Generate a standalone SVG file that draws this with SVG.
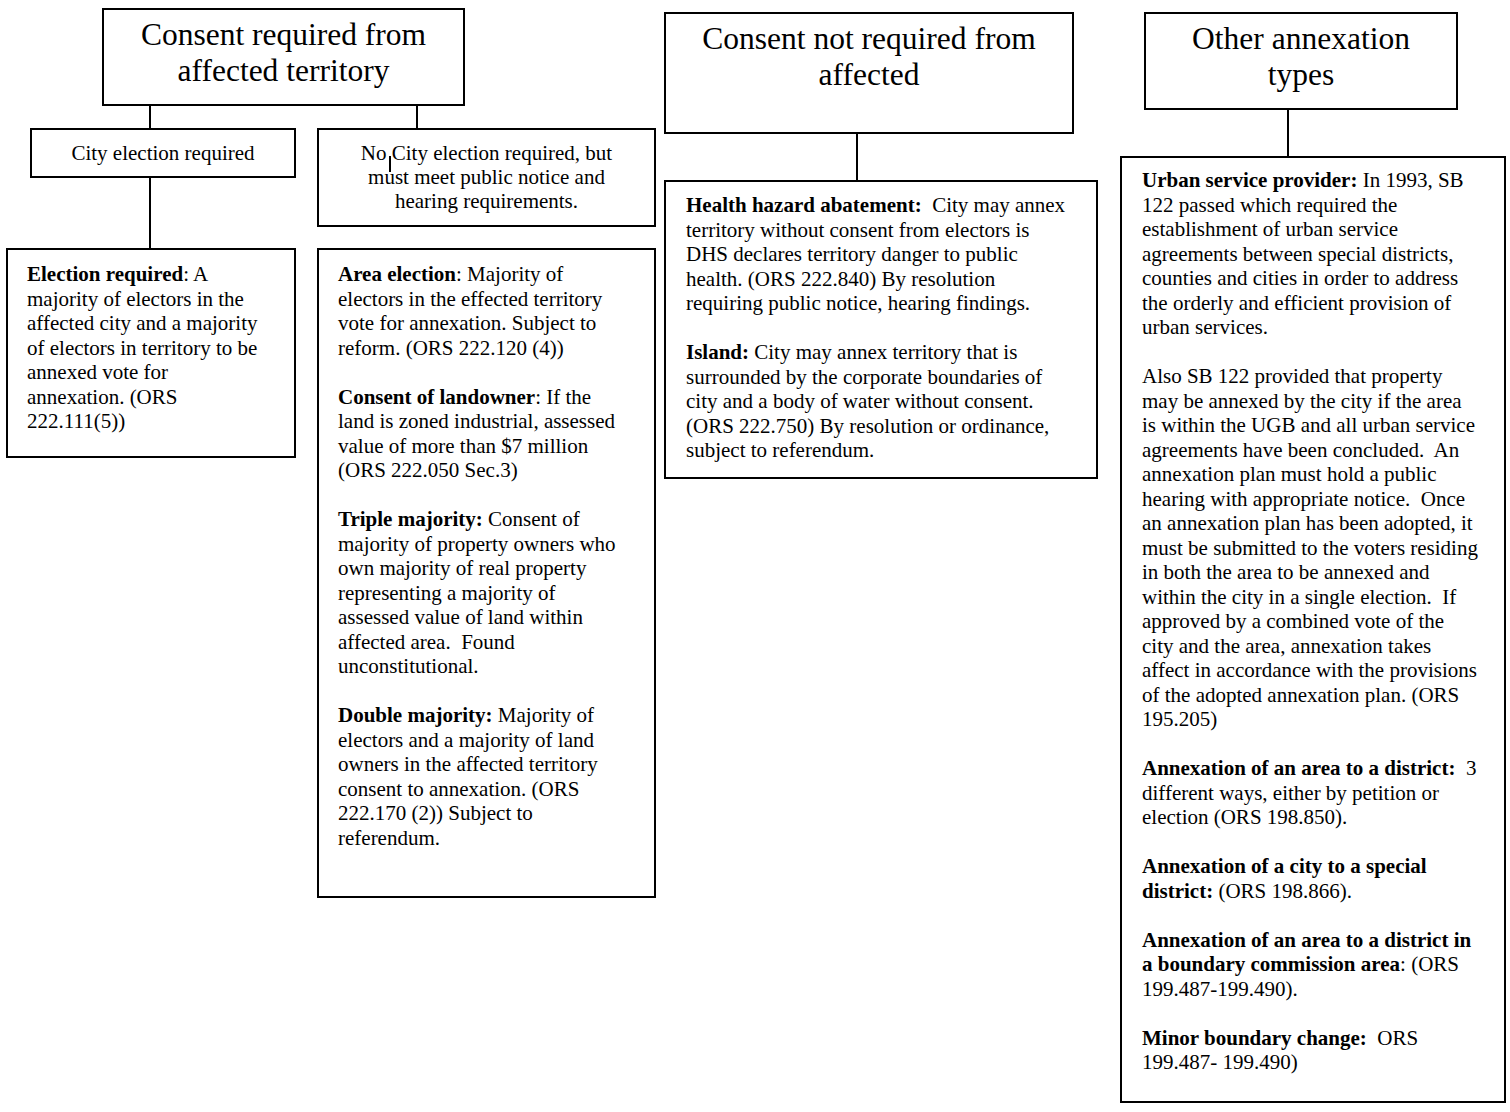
<svg xmlns="http://www.w3.org/2000/svg" width="1510" height="1112" viewBox="0 0 1510 1112">
<style>
.box{fill:#fff;stroke:#000;stroke-width:2}
.ln{stroke:#000;stroke-width:2;fill:none}
text{font-family:"Liberation Serif","Times New Roman",serif;font-size:21px;fill:#000}
.title{font-size:31.5px;text-anchor:middle}
.c{text-anchor:middle}
.b{font-weight:bold}
</style>
<rect width="1510" height="1112" fill="#fff"/>
<g id="connectors">
<line class="ln" x1="150" y1="105" x2="150" y2="129"/>
<line class="ln" x1="417" y1="105" x2="417" y2="129"/>
<line class="ln" x1="150" y1="177" x2="150" y2="249"/>
<line class="ln" x1="857" y1="133" x2="857" y2="181"/>
<line class="ln" x1="1288" y1="109" x2="1288" y2="157"/>
</g>
<g id="consent-required">
<rect class="box" x="103" y="9" width="361" height="96"/>
<text class="title" x="283.5" y="45">Consent required from</text>
<text class="title" x="283.5" y="81">affected territory</text>
</g>
<g id="city-election">
<rect class="box" x="31" y="129" width="264" height="48"/>
<text class="c" x="163" y="160">City election required</text>
</g>
<g id="no-city-election">
<rect class="box" x="318" y="129" width="337" height="97"/>
<text class="c" x="486.5" y="160">No City election required, but</text>
<text class="c" x="486.5" y="184">must meet public notice and</text>
<text class="c" x="486.5" y="208">hearing requirements.</text>
<line class="ln" x1="390" y1="156" x2="390" y2="172" stroke-width="1.5"/>
</g>
<g id="election-required">
<rect class="box" x="7" y="249" width="288" height="208"/>
<text x="27" y="281"><tspan class="b">Election required</tspan>: A</text>
<text x="27" y="305.5">majority of electors in the</text>
<text x="27" y="330">affected city and a majority</text>
<text x="27" y="354.5">of electors in territory to be</text>
<text x="27" y="379">annexed vote for</text>
<text x="27" y="403.5">annexation. (ORS</text>
<text x="27" y="428">222.111(5))</text>
</g>
<g id="area-election">
<rect class="box" x="318" y="249" width="337" height="648"/>
<text x="338" y="281"><tspan class="b">Area election</tspan>: Majority of</text>
<text x="338" y="305.5">electors in the effected territory</text>
<text x="338" y="330">vote for annexation. Subject to</text>
<text x="338" y="354.5">reform. (ORS 222.120 (4))</text>
<text x="338" y="403.5"><tspan class="b">Consent of landowner</tspan>: If the</text>
<text x="338" y="428">land is zoned industrial, assessed</text>
<text x="338" y="452.5">value of more than $7 million</text>
<text x="338" y="477">(ORS 222.050 Sec.3)</text>
<text x="338" y="526"><tspan class="b">Triple majority:</tspan> Consent of</text>
<text x="338" y="550.5">majority of property owners who</text>
<text x="338" y="575">own majority of real property</text>
<text x="338" y="599.5">representing a majority of</text>
<text x="338" y="624">assessed value of land within</text>
<text x="338" y="648.5" xml:space="preserve">affected area.  Found</text>
<text x="338" y="673">unconstitutional.</text>
<text x="338" y="722"><tspan class="b">Double majority:</tspan> Majority of</text>
<text x="338" y="746.5">electors and a majority of land</text>
<text x="338" y="771">owners in the affected territory</text>
<text x="338" y="795.5">consent to annexation. (ORS</text>
<text x="338" y="820">222.170 (2)) Subject to</text>
<text x="338" y="844.5">referendum.</text>
</g>
<g id="consent-not-required">
<rect class="box" x="665" y="13" width="408" height="120"/>
<text class="title" x="869" y="49">Consent not required from</text>
<text class="title" x="869" y="85">affected</text>
</g>
<g id="health-island">
<rect class="box" x="665" y="181" width="432" height="297"/>
<text x="686" y="212" xml:space="preserve"><tspan class="b">Health hazard abatement:</tspan>  City may annex</text>
<text x="686" y="236.5">territory without consent from electors is</text>
<text x="686" y="261">DHS declares territory danger to public</text>
<text x="686" y="285.5">health. (ORS 222.840) By resolution</text>
<text x="686" y="310">requiring public notice, hearing findings.</text>
<text x="686" y="359"><tspan class="b">Island:</tspan> City may annex territory that is</text>
<text x="686" y="383.5">surrounded by the corporate boundaries of</text>
<text x="686" y="408">city and a body of water without consent.</text>
<text x="686" y="432.5">(ORS 222.750) By resolution or ordinance,</text>
<text x="686" y="457">subject to referendum.</text>
</g>
<g id="other-types">
<rect class="box" x="1145" y="13" width="312" height="96"/>
<text class="title" x="1301" y="49">Other annexation</text>
<text class="title" x="1301" y="85">types</text>
</g>
<g id="other-details">
<rect class="box" x="1121" y="157" width="384" height="945"/>
<text x="1142" y="187"><tspan class="b">Urban service provider:</tspan> In 1993, SB</text>
<text x="1142" y="211.5">122 passed which required the</text>
<text x="1142" y="236">establishment of urban service</text>
<text x="1142" y="260.5">agreements between special districts,</text>
<text x="1142" y="285">counties and cities in order to address</text>
<text x="1142" y="309.5">the orderly and efficient provision of</text>
<text x="1142" y="334">urban services.</text>
<text x="1142" y="383">Also SB 122 provided that property</text>
<text x="1142" y="407.5">may be annexed by the city if the area</text>
<text x="1142" y="432">is within the UGB and all urban service</text>
<text x="1142" y="456.5" xml:space="preserve">agreements have been concluded.  An</text>
<text x="1142" y="481">annexation plan must hold a public</text>
<text x="1142" y="505.5" xml:space="preserve">hearing with appropriate notice.  Once</text>
<text x="1142" y="530">an annexation plan has been adopted, it</text>
<text x="1142" y="554.5">must be submitted to the voters residing</text>
<text x="1142" y="579">in both the area to be annexed and</text>
<text x="1142" y="603.5" xml:space="preserve">within the city in a single election.  If</text>
<text x="1142" y="628">approved by a combined vote of the</text>
<text x="1142" y="652.5">city and the area, annexation takes</text>
<text x="1142" y="677">affect in accordance with the provisions</text>
<text x="1142" y="701.5">of the adopted annexation plan. (ORS</text>
<text x="1142" y="726">195.205)</text>
<text x="1142" y="775" xml:space="preserve"><tspan class="b">Annexation of an area to a district:</tspan>  3</text>
<text x="1142" y="799.5">different ways, either by petition or</text>
<text x="1142" y="824">election (ORS 198.850).</text>
<text x="1142" y="873" class="b">Annexation of a city to a special</text>
<text x="1142" y="897.5"><tspan class="b">district:</tspan> (ORS 198.866).</text>
<text x="1142" y="946.5" class="b">Annexation of an area to a district in</text>
<text x="1142" y="971"><tspan class="b">a boundary commission area</tspan>: (ORS</text>
<text x="1142" y="995.5">199.487-199.490).</text>
<text x="1142" y="1044.5" xml:space="preserve"><tspan class="b">Minor boundary change:</tspan>  ORS</text>
<text x="1142" y="1069">199.487- 199.490)</text>
</g>
</svg>
